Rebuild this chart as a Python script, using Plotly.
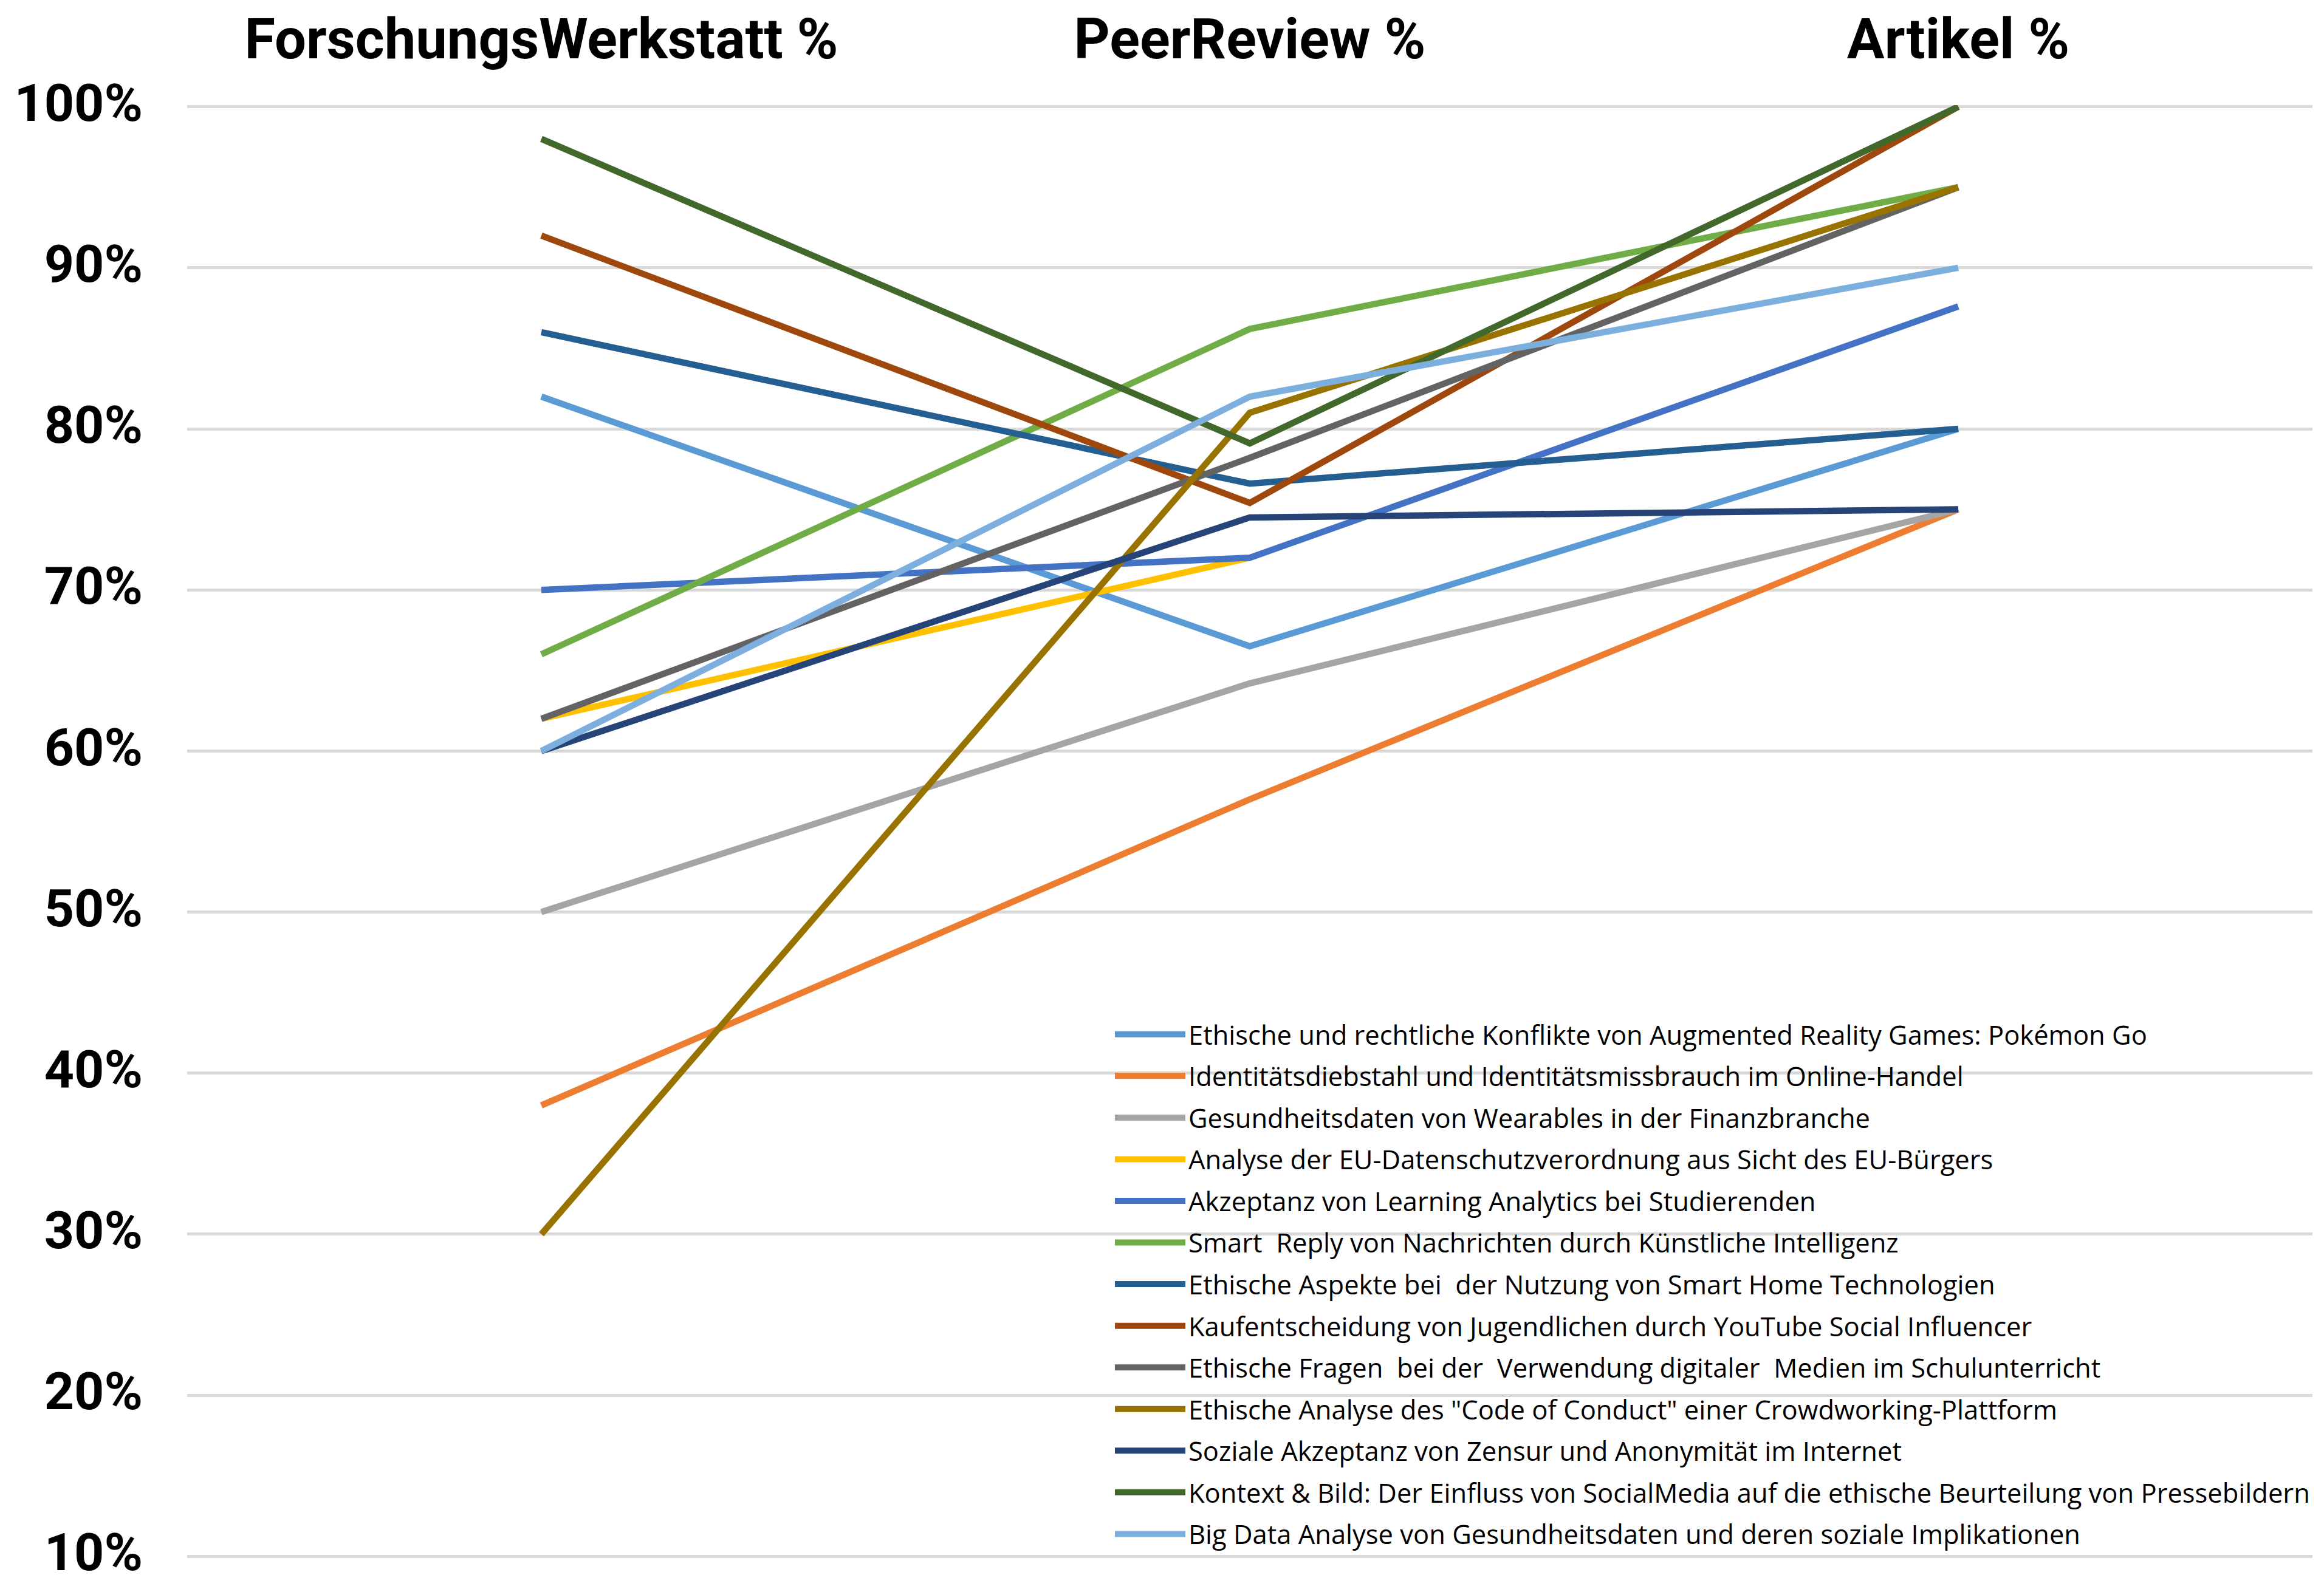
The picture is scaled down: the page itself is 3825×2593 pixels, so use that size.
import plotly.graph_objects as go

categories = ["ForschungsWerkstatt %", "PeerReview %", "Artikel %"]

series_names = [
    "Ethische und rechtliche Konflikte von Augmented Reality Games: Pokémon Go",
    "Identitätsdiebstahl und Identitätsmissbrauch im Online-Handel",
    "Gesundheitsdaten von Wearables in der Finanzbranche",
    "Analyse der EU-Datenschutzverordnung aus Sicht des EU-Bürgers",
    "Akzeptanz von Learning Analytics bei Studierenden",
    "Smart  Reply von Nachrichten durch Künstliche Intelligenz",
    "Ethische Aspekte bei  der Nutzung von Smart Home Technologien",
    "Kaufentscheidung von Jugendlichen durch YouTube Social Influencer",
    "Ethische Fragen  bei der  Verwendung digitaler  Medien im Schulunterricht",
    "Ethische Analyse des \"Code of Conduct\" einer Crowdworking-Plattform",
    "Soziale Akzeptanz von Zensur und Anonymität im Internet",
    "Kontext & Bild: Der Einfluss von SocialMedia auf die ethische Beurteilung von Pressebildern",
    "Big Data Analyse von Gesundheitsdaten und deren soziale Implikationen",
]

pokemon = [82, 66.5, 80]
identitaet = [38, 57, 75]
wearables = [50, 64.2, 75]
dsgvo = [62, 72, None]
learning = [70, 72, 87.6]
smart_reply = [66, 86.2, 95]
smart_home = [86, 76.6, 80]
influencer = [92, 75.4, 100]
schulunterricht = [62, 78.2, 95]
crowdworking = [30, 81, 95]
zensur = [60, 74.5, 75]
pressebilder = [98, 79.1, 100]
big_data = [60, 82, 90]

series_values = [pokemon, identitaet, wearables, dsgvo, learning, smart_reply,
                 smart_home, influencer, schulunterricht, crowdworking, zensur,
                 pressebilder, big_data]

colors = ["#5B9BD5", "#ED7D31", "#A5A5A5", "#FFC000", "#4472C4", "#70AD47",
          "#255E91", "#9E480E", "#636363", "#997300", "#264478", "#43682B",
          "#7CAFDD"]

y_ticks = [10, 20, 30, 40, 50, 60, 70, 80, 90, 100]
y_tick_labels = [f"{v}%" for v in y_ticks]

fig = go.Figure()
for name, vals, col in zip(series_names, series_values, colors):
    fig.add_trace(go.Scatter(
        x=categories, y=vals, name=name, mode="lines",
        line=dict(color=col, width=10.5),
        legendgroup=name,
    ))

fig.update_layout(
    width=3825, height=2593,
    margin=dict(l=300, r=27, t=165, b=36),
    paper_bgcolor="white", plot_bgcolor="white",
    showlegend=True,
    legend=dict(
        x=0.4351, y=0.375, xanchor="left", yanchor="top",
        bgcolor="rgba(0,0,0,0)", borderwidth=0,
        font=dict(family="Open Sans", size=43.5, color="#000000"),
        traceorder="grouped", tracegroupgap=9,
        itemwidth=116,
    ),
    xaxis=dict(
        type="category", side="top", range=[-0.5, 2.5],
        showgrid=False, showline=False, zeroline=False, ticks="",
        tickfont=dict(family="Roboto", size=92,
                      color="#000000", weight="bold"),
        ticklabelstandoff=58, automargin=False,
    ),
    yaxis=dict(
        range=[9.9, 100.1], tickvals=y_ticks, ticktext=y_tick_labels,
        showgrid=True, gridcolor="#D9D9D9", gridwidth=5,
        zeroline=False, showline=False, ticks="",
        tickfont=dict(family="Roboto", size=86,
                      color="#000000", weight="bold"),
        ticklabelstandoff=72, ticklabelshift=-7, automargin=False,
        ticklabeloverflow="allow",
    ),
)

fig.write_html("out.html")
